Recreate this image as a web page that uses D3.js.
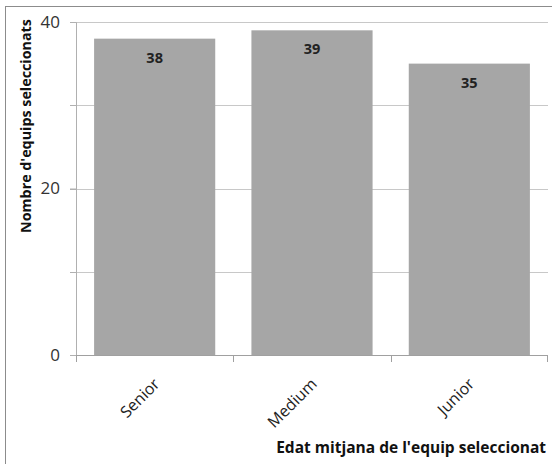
<!DOCTYPE html>
<html>
<head>
<meta charset="utf-8">
<script src="https://cdn.jsdelivr.net/npm/d3@7"></script>
<style>
  body { margin: 0; background: #fff; }
  text { font-family: "Open Sans", "Noto Sans", sans-serif; }
</style>
</head>
<body>
<div id="chart"></div>
<script>
var svgWidth = 552;
var svgHeight = 464;

// data
var categories = ["Senior", "Medium", "Junior"];
var values = [38, 39, 35];
var yTicks = [0, 20, 40];
var gridTicks = [10, 20, 30, 40];

var margin = { top: 22, right: 4, bottom: 109, left: 76 };
var width = svgWidth - margin.left - margin.right;
var height = svgHeight - margin.top - margin.bottom;

var svg = d3.select("#chart")
  .append("svg")
  .attr("width", svgWidth)
  .attr("height", svgHeight);

// outer chart frame (runs off the right and bottom)
svg.append("rect")
  .attr("x", 5.5)
  .attr("y", 6.5)
  .attr("width", 600)
  .attr("height", 600)
  .attr("fill", "none")
  .attr("stroke", "#8c8c8c");

var chartGroup = svg.append("g")
  .attr("transform", `translate(${margin.left}, ${margin.top})`);

var xScale = d3.scaleBand()
  .domain(categories)
  .range([0, width])
  .paddingInner(0.23)
  .paddingOuter(0.115);

var yScale = d3.scaleLinear()
  .domain([0, 40])
  .range([height, 0]);

// gridlines
chartGroup.selectAll(".grid")
  .data(gridTicks)
  .enter()
  .append("line")
  .attr("x1", 0)
  .attr("x2", width)
  .attr("y1", d => Math.round(yScale(d)) + 0.5)
  .attr("y2", d => Math.round(yScale(d)) + 0.5)
  .attr("stroke", "#c8c8c8");

// bars
chartGroup.selectAll(".bar")
  .data(values)
  .enter()
  .append("rect")
  .attr("x", (d, i) => xScale(categories[i]))
  .attr("y", d => yScale(d))
  .attr("width", xScale.bandwidth())
  .attr("height", d => height - yScale(d))
  .attr("fill", "#a6a6a6");

// value labels
chartGroup.selectAll(".val")
  .data(values)
  .enter()
  .append("text")
  .attr("x", (d, i) => xScale(categories[i]) + xScale.bandwidth() / 2)
  .attr("y", d => yScale(d) + 24)
  .attr("text-anchor", "middle")
  .attr("font-size", "14.5px")
  .attr("font-weight", "bold")
  .attr("fill", "#222")
  .text(d => d);

// y axis
var leftAxis = d3.axisLeft(yScale)
  .tickValues(yTicks)
  .tickSize(6)
  .tickPadding(10);

var yAxis = chartGroup.append("g").call(leftAxis);
yAxis.select(".domain").attr("stroke", "#b0b0b0");
yAxis.selectAll(".tick line").attr("stroke", "#b0b0b0");
yAxis.selectAll(".tick text")
  .attr("font-size", "17px")
  .attr("fill", "#333")
  .attr("font-family", "\"Open Sans\", sans-serif");

// minor ticks on the y axis at 10 and 30
chartGroup.selectAll(".ytick")
  .data(gridTicks)
  .enter()
  .append("line")
  .attr("x1", -6)
  .attr("x2", 0)
  .attr("y1", d => Math.round(yScale(d)) + 0.5)
  .attr("y2", d => Math.round(yScale(d)) + 0.5)
  .attr("stroke", "#b0b0b0");

// x axis line with boundary ticks
var xAxisG = chartGroup.append("g")
  .attr("transform", `translate(0, ${height})`);

xAxisG.append("line")
  .attr("x1", 0)
  .attr("x2", width)
  .attr("y1", 0.5)
  .attr("y2", 0.5)
  .attr("stroke", "#a0a0a0");

var step = xScale.step();
var bounds = d3.range(categories.length + 1).map(i => i * step);
xAxisG.selectAll(".xtick")
  .data(bounds)
  .enter()
  .append("line")
  .attr("x1", d => Math.min(Math.round(d) + 0.5, width - 0.5))
  .attr("x2", d => Math.min(Math.round(d) + 0.5, width - 0.5))
  .attr("y1", 0)
  .attr("y2", 7)
  .attr("stroke", "#a0a0a0");

// rotated category labels
xAxisG.selectAll(".cat")
  .data(categories)
  .enter()
  .append("text")
  .attr("transform", d => `translate(${xScale(d) + xScale.bandwidth() / 2 + 6}, 30) rotate(-45)`)
  .attr("text-anchor", "end")
  .attr("font-size", "16px")
  .attr("fill", "#222")
  .text(d => d);

// axis titles
svg.append("text")
  .attr("transform", "translate(31, 126) rotate(-90)")
  .attr("text-anchor", "middle")
  .attr("font-size", "14.3px")
  .attr("font-weight", "bold")
  .attr("fill", "#111")
  .text("Nombre d'equips seleccionats");

svg.append("text")
  .attr("x", 546)
  .attr("y", 453)
  .attr("text-anchor", "end")
  .attr("font-size", "15.5px")
  .attr("font-weight", "bold")
  .attr("fill", "#111")
  .text("Edat mitjana de l'equip seleccionat");
</script>
</body>
</html>
